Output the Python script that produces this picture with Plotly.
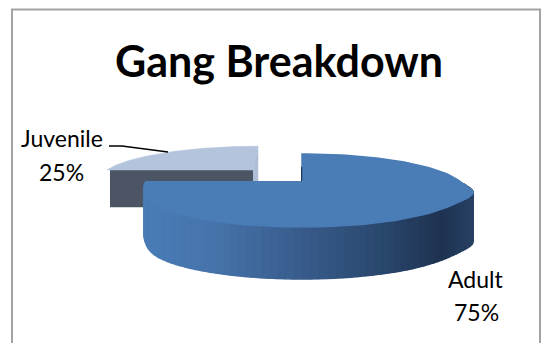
import math
import plotly.graph_objects as go

TITLE = "Gang Breakdown"
categories = ["Adult", "Juvenile"]
values = [75, 25]

W, H = 542, 343
PERSPECTIVE = 0.26

# (stop position along the adult rim in screen x, colour)
SIDE_STOPS = [(145, (74, 124, 182)), (215, (70, 115, 170)), (300, (56, 92, 140)),
              (380, (42, 72, 110)), (440, (30, 50, 80)), (475, (40, 66, 100))]


def project(theta, apex, rx, ry, shape=False, lean=0.0):
    """Angle clockwise from 12 o'clock onto the tilted disc, in screen pixels."""
    u, v = math.sin(theta), -math.cos(theta)
    d = 1 - PERSPECTIVE * v
    widen = 1
    if shape and u > 0:
        widen = 1 + 0.055 * math.exp(-((v - 0.33) / 0.2) ** 2)
    elif shape and u < 0:
        widen = 1 - 0.035 * math.exp(-((v - 0.35) / 0.3) ** 2)
    x = apex[0] + rx * u * widen / d + lean * max(-v, 0)
    y = apex[1] + ry * v / d
    return x, y


def side_colour(x):
    for (x0, c0), (x1, c1) in zip(SIDE_STOPS, SIDE_STOPS[1:]):
        if x <= x1:
            t = max(0, (x - x0) / (x1 - x0))
            return "rgb(%d,%d,%d)" % tuple(round(a + (b - a) * t) for a, b in zip(c0, c1))
    return "rgb(%d,%d,%d)" % SIDE_STOPS[-1][1]


def poly(xs, ys, colour, name, width=0.5):
    return go.Scatter(x=xs, y=ys, mode="lines", fill="toself", fillcolor=colour,
                      line=dict(color=colour, width=width), hoverinfo="text", text=name,
                      showlegend=False)


total = sum(values)
adult_span = 2 * math.pi * values[0] / total
juv_span = 2 * math.pi * values[1] / total

traces = []

# --- Juvenile: exploded slice behind ---
J_APEX, J_RX, J_RY, J_DEPTH = (253, 170), 146, 30, 37
j_angles = [adult_span + juv_span * i / 60 for i in range(61)]
j_pts = [project(a, J_APEX, J_RX, J_RY, lean=5) for a in j_angles]
left = j_pts[0]
traces.append(poly([left[0] + 3, J_APEX[0], J_APEX[0], left[0] + 3],
                   [left[1], J_APEX[1], J_APEX[1] + J_DEPTH, left[1] + J_DEPTH],
                   "#4b5563", categories[1]))
traces.append(poly([J_APEX[0], J_APEX[0] + 5, J_APEX[0] + 5, J_APEX[0]],
                   [J_APEX[1], J_APEX[1] - 24, J_APEX[1] + 12, J_APEX[1] + 12],
                   "#aebfd6", categories[1]))
traces.append(poly([J_APEX[0]] + [p[0] for p in j_pts],
                   [J_APEX[1]] + [p[1] for p in j_pts], "#b3c4dc", categories[1]))

# --- Adult: rim strips, then the top surface ---
A_APEX, A_RX, A_RY, A_DEPTH = (302, 181), 157, 34, 52
n = 120
a_angles = [adult_span * i / n for i in range(n + 1)]
for a0, a1 in zip(a_angles, a_angles[1:]):
    if math.cos(a0) > -0.1 and math.cos(a1) > -0.1:
        continue  # hidden back of the rim
    p0 = project(a0, A_APEX, A_RX, A_RY, True)
    p1 = project(a1, A_APEX, A_RX, A_RY, True)
    d0 = A_DEPTH * (0.93 + 0.07 * max(0, -math.cos(a0)))
    d1 = A_DEPTH * (0.93 + 0.07 * max(0, -math.cos(a1)))
    traces.append(poly([p0[0], p1[0], p1[0], p0[0]],
                       [p0[1], p1[1], p1[1] + d1, p0[1] + d0],
                       side_colour((p0[0] + p1[0]) / 2), categories[0], width=1.5))
a_pts = [project(a, A_APEX, A_RX, A_RY, True) for a in a_angles]
traces.append(poly([A_APEX[0]] + [p[0] for p in a_pts],
                   [A_APEX[1]] + [p[1] for p in a_pts], "#4a7cb6", categories[0], width=1.5))
traces.append(poly([A_APEX[0] - 1, A_APEX[0], A_APEX[0], A_APEX[0] - 1],
                   [A_APEX[1] - 14, A_APEX[1] - 14, A_APEX[1], A_APEX[1]],
                   "#1f3a5f", categories[0]))

fig = go.Figure(traces)

font = "Lato, 'Open Sans', sans-serif"
fig.update_layout(
    width=W, height=H,
    margin=dict(l=0, r=0, t=0, b=0), autosize=False,
    paper_bgcolor="white", plot_bgcolor="white", showlegend=False,
    xaxis=dict(range=[0, W], visible=False, fixedrange=True),
    yaxis=dict(range=[H, 0], visible=False, fixedrange=True),
    shapes=[
        dict(type="path", path=f"M 12 {H+3} L 12 9.5 L 540 9.5 L 540 {H+3}",
             line=dict(color="#a3a3a3", width=2)),
        dict(type="path", path="M 109 146 L 122 146 L 168 152",
             line=dict(color="#000000", width=1.5)),
    ],
    annotations=[
        dict(x=279, y=60, text=f"<b>{TITLE}</b>", showarrow=False,
             font=dict(family=font, size=43, color="#000000")),
        dict(x=62, y=138, text=categories[1], showarrow=False,
             font=dict(family=font, size=23, color="#000000")),
        dict(x=61, y=172, text=f"{values[1]}%", showarrow=False,
             font=dict(family=font, size=23, color="#000000")),
        dict(x=475, y=279, text=categories[0], showarrow=False,
             font=dict(family=font, size=23, color="#000000")),
        dict(x=476, y=312, text=f"{values[0]}%", showarrow=False,
             font=dict(family=font, size=23, color="#000000")),
    ],
)
fig.write_html("out.html", config=dict(displayModeBar=False),
               post_script="document.body.style.margin='0';document.documentElement.style.overflow='hidden';")
